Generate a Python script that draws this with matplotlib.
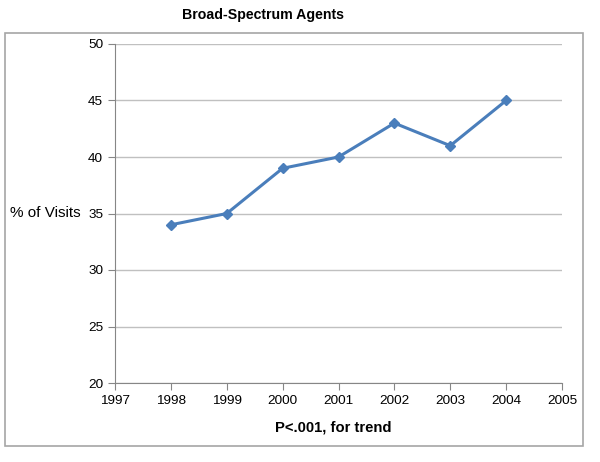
import matplotlib
matplotlib.use("Agg")
from matplotlib import pyplot as plt
from matplotlib.patches import Rectangle

years = [1998, 1999, 2000, 2001, 2002, 2003, 2004]
visits = [34, 35, 39, 40, 43, 41, 45]

plt.rcParams['font.family'] = ['Liberation Sans', 'DejaVu Sans']

fig = plt.figure(figsize=(6.0, 4.62), dpi=100)
W, H = 600.0, 462.0

# outer chart frame
fig.patches.append(Rectangle((5 / W, 1 - 446 / H), 578 / W, 413 / H,
                             transform=fig.transFigure, fill=False,
                             edgecolor='#a6a6a6', linewidth=1.2))

ax = fig.add_axes([115 / W, 1 - 383 / H, 447 / W, 339 / H])
ax.plot(years, visits, color='#4a7ebb', linewidth=2.2, marker='D', markersize=5)

ax.set_xlim(1997, 2005)
ax.set_ylim(20, 50)
ax.set_xticks(range(1997, 2006))
ax.set_yticks(range(20, 51, 5))
ax.grid(axis='y', color='#c0c0c0', linewidth=1)
ax.set_axisbelow(True)
for side in ['top', 'right']:
    ax.spines[side].set_visible(False)
for side in ['left', 'bottom']:
    ax.spines[side].set_color('#868686')
ax.tick_params(colors='#868686', labelcolor='black', labelsize=9.7, length=5, direction='out')

fig.text(182 / W, 1 - 15 / H, 'Broad-Spectrum Agents', fontsize=10.2, fontweight='bold',
         ha='left', va='center')
fig.text(10 / W, 1 - 213 / H, '% of Visits', fontsize=11, ha='left', va='center')
fig.text(333 / W, 1 - 427 / H, 'P<.001, for trend', fontsize=10.6, fontweight='bold',
         ha='center', va='center')

fig.savefig('out.png', dpi=100)
